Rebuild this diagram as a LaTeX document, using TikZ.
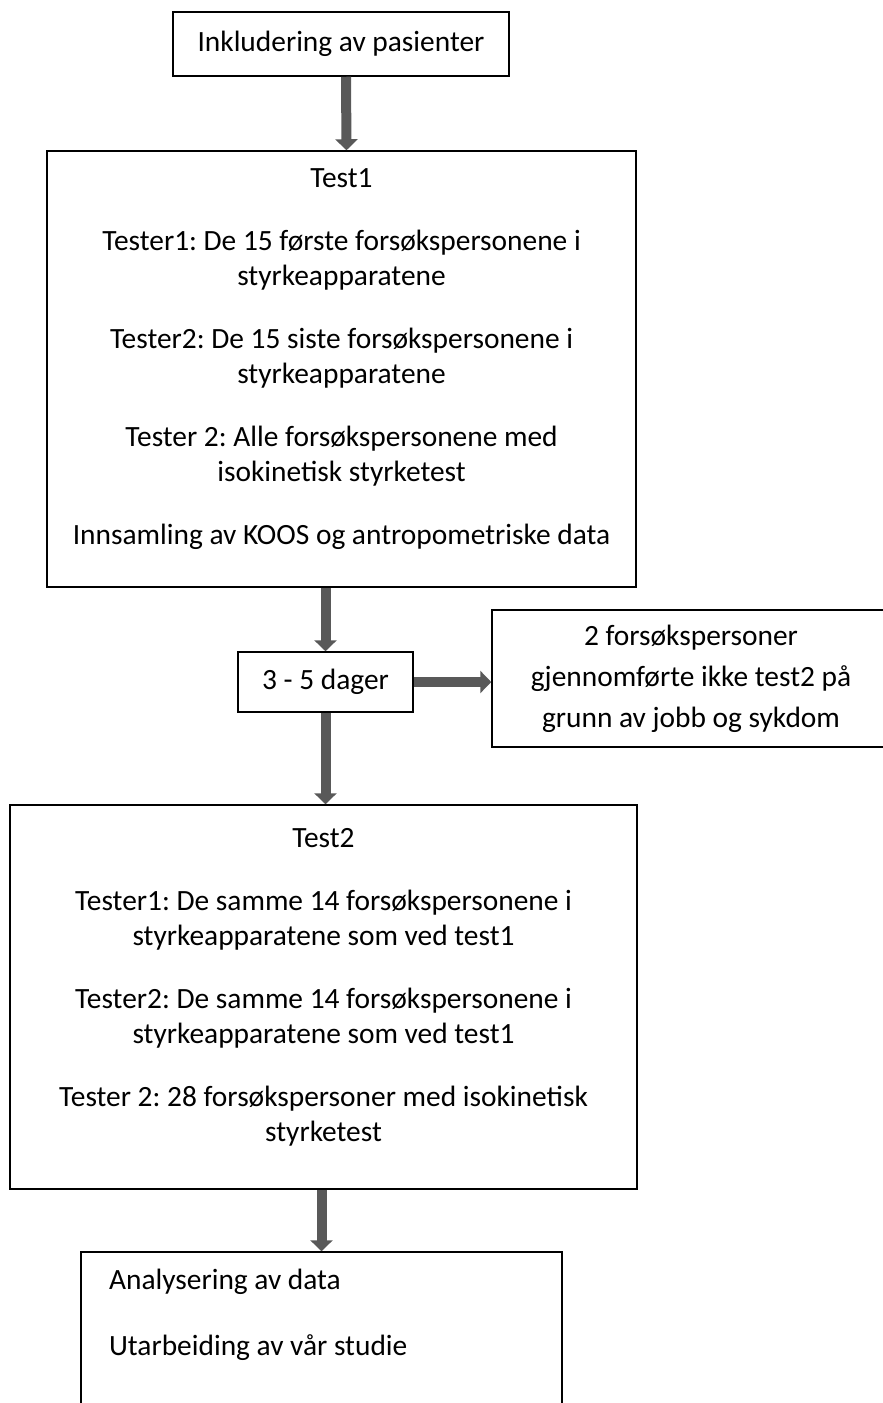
\documentclass[tikz,border=0pt]{standalone}
\usepackage{fontspec}
\setmainfont{Carlito}
\usetikzlibrary{arrows.meta}
\definecolor{flowgray}{HTML}{595959}
\frenchspacing

\begin{document}
\begin{tikzpicture}[x=0.5pt, y=-0.5pt,
  box/.style={draw, rectangle, line width=0.75pt, inner sep=0pt},
  txt/.style={align=center, font=\fontsize{14.7}{17.5}\selectfont},
  flow/.style={draw=flowgray, line width=5pt, -{Triangle[length=5.5pt, width=11pt]}}]
\useasboundingbox (0,0) rectangle (883,1403);
\clip (0,0) rectangle (883,1403);
\node[box, txt, minimum width=168pt, minimum height=32pt] (incl) at (341, 44) {Inkludering av pasienter};
\node[box, minimum width=294.5pt, minimum height=218pt] (test1) at (341.5, 369) {};
\node[txt] (test1txt) at (341.5, 359) {Test1\\[14pt]
  Tester1: De 15 første forsøkspersonene i\\ styrkeapparatene\\[14pt]
  Tester2: De 15 siste forsøkspersonene i\\ styrkeapparatene\\[14pt]
  Tester 2: Alle forsøkspersonene med\\ isokinetisk styrketest\\[14pt]
  Innsamling av KOOS og antropometriske data};
\node[box, txt, minimum width=87.5pt, minimum height=30pt] (dager) at (325.5, 682) {3 - 5 dager};
\node[box, minimum width=215pt, minimum height=68.5pt] (drop) at (707, 678.5) {};
\node[txt, font=\fontsize{14.7}{20.5}\selectfont] (droptxt) at (691, 678.5)
  {2 forsøkspersoner\\ gjennomførte ikke test2 på\\ grunn av jobb og sykdom};
\node[box, minimum width=313.5pt, minimum height=192pt] (test2) at (323.5, 997) {};
\node[txt] (test2txt) at (323.5, 987.5) {Test2\\[14pt]
  Tester1: De samme 14 forsøkspersonene i\\ styrkeapparatene som ved test1\\[14pt]
  Tester2: De samme 14 forsøkspersonene i\\ styrkeapparatene som ved test1\\[14pt]
  Tester 2: 28 forsøkspersoner med isokinetisk\\ styrketest};
\node[box, minimum width=240.5pt, minimum height=89pt] (analyse) at (321.5, 1341) {};
\node[txt, align=left, anchor=west, font=\fontsize{14.7}{33}\selectfont] (analysetxt) at (102, 1315)
  {Analysering av data\\ Utarbeiding av vår studie};
% piler
\draw[flow] ([xshift=2.5pt]incl.south) -- ([xshift=2.5pt]test1.north);
\draw[flow] (dager.north |- test1.south) -- (dager.north);
\draw[flow] (dager.south) -- (dager.south |- test2.north);
\draw[flow] (analyse.north |- test2.south) -- (analyse.north);
\draw[flow] (dager.east) -- (dager.east -| drop.west);
\end{tikzpicture}
\end{document}
